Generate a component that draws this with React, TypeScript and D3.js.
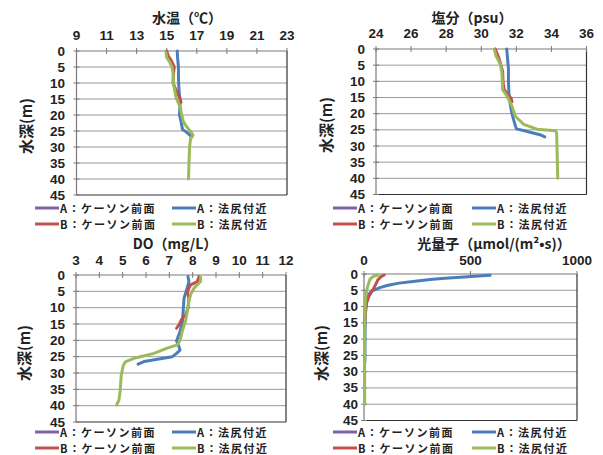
import React from "react";
import * as d3 from "d3";

// ---------- data (depth m, value) ----------
const depthTicks = [0, 5, 10, 15, 20, 25, 30, 35, 40, 45];
const tempTicks = [9, 11, 13, 15, 17, 19, 21, 23];
const salTicks = [24, 26, 28, 30, 32, 34, 36];
const doTicks = [3, 4, 5, 6, 7, 8, 9, 10, 11, 12];
const lightTicks = [0, 500, 1000];

const seriesNames = ["A：ケーソン前面", "A：法尻付近", "B：ケーソン前面", "B：法尻付近"];
const seriesColors = ["#7E62A8", "#4A7EBB", "#C0504D", "#9BBB59"];

const tempPurple: [number, number][] = [];
const tempBlue: [number, number][] = [
  [0, 15.7], [2, 15.72], [5, 15.78], [8, 15.78], [11, 15.8], [14, 15.85], [15.5, 15.92],
  [17, 15.88], [20, 15.85], [22, 15.95], [24.5, 16.05], [25.5, 16.35], [26.3, 16.55], [27, 16.65],
];
const tempRed: [number, number][] = [
  [0, 15.0], [1.5, 15.1], [3, 15.3], [5, 15.5], [7, 15.45], [10, 15.42], [12, 15.6], [14.5, 15.85], [16, 15.95],
];
const tempGreen: [number, number][] = [
  [0.5, 14.95], [2, 15.0], [3.5, 15.2], [5, 15.35], [7, 15.42], [10, 15.45], [12, 15.52], [14.5, 15.62],
  [16, 15.75], [17.5, 15.9], [20, 16.0], [22, 16.1], [23.5, 16.3], [25, 16.55], [26.3, 16.75],
  [27.5, 16.58], [30, 16.52], [35, 16.48], [40, 16.45],
];

const salPurple: [number, number][] = [];
const salBlue: [number, number][] = [
  [0, 31.45], [3, 31.5], [6, 31.55], [10, 31.55], [14, 31.58], [17.5, 31.66], [20, 31.75],
  [22, 31.85], [24.7, 32.0], [25.2, 32.4], [26.5, 33.35], [27.2, 33.62],
];
const salRed: [number, number][] = [
  [0, 30.8], [2, 30.95], [4.5, 31.1], [7, 31.22], [10, 31.24], [12.5, 31.3], [13.8, 31.47], [15.2, 31.7], [16.3, 31.75],
];
const salGreen: [number, number][] = [
  [0.2, 30.74], [2.3, 30.86], [4.8, 31.09], [7.5, 31.18], [10, 31.2], [12.6, 31.22], [14.6, 31.47],
  [17.7, 31.75], [20.8, 31.94], [23.3, 32.42], [24.8, 33.18], [25.3, 34.23], [26, 34.3], [31, 34.32], [40, 34.36],
];

const doPurple: [number, number][] = [];
const doBlue: [number, number][] = [
  [0.5, 7.8], [2, 7.84], [4.6, 7.74], [7.1, 7.63], [10.2, 7.6], [14.3, 7.56], [17.3, 7.46], [20.2, 7.31],
  [21.9, 7.41], [23, 7.46], [24, 7.31], [25, 7.13], [25.8, 6.49], [26.5, 5.91], [27.3, 5.66],
];
const doRed: [number, number][] = [
  [0.5, 8.27], [2, 8.2], [3, 7.91], [5.1, 7.77], [7.1, 7.84], [10.2, 7.8], [12.2, 7.7], [13.8, 7.51], [15.3, 7.41], [16.3, 7.31],
];
const doGreen: [number, number][] = [
  [0.5, 8.34], [2, 8.34], [3, 8.2], [4, 8.06], [6, 7.91], [8, 7.84], [11, 7.77], [14, 7.7], [17, 7.56],
  [20, 7.46], [21.4, 7.34], [22.4, 6.91], [24, 6.34], [25.5, 5.49], [26.5, 5.13], [27.6, 5.03],
  [30.6, 4.94], [35.7, 4.89], [38.3, 4.84], [39.8, 4.74],
];

const lightPurple: [number, number][] = [];
const lightBlue: [number, number][] = [
  [0.4, 592], [0.9, 470], [1.3, 380], [1.7, 310], [2.3, 230], [2.8, 165], [3.3, 125], [3.7, 100],
  [4.2, 75], [4.7, 55], [5.3, 35], [6.3, 22], [8.4, 12], [12, 7], [18, 5], [27, 4],
];
const lightRed: [number, number][] = [
  [0.3, 95], [0.8, 80], [1.8, 65], [3.2, 55], [4.5, 45], [5.5, 35], [7, 22], [9, 12], [11, 7], [13, 5], [16, 3],
];
const lightGreen: [number, number][] = [
  [0.3, 67], [0.7, 44], [1.6, 28], [3.2, 20], [5.3, 12], [7.3, 8], [10.4, 5], [15, 4], [20, 3], [30, 3], [40, 3],
];

// ---------- layout ----------
type PanelCfg = {
  title: string;
  ticks: number[];
  series: [number, number][][];
  x0: number; x1: number; y0: number; y1: number;
  titleX: number; titleY: number; tickY: number;
  yLabRight: number; yTitleX: number; yTitleY: number;
  legX: number; legX2: number; legY: number;
};

const FONT = "'Noto Sans CJK JP', 'Noto Sans', sans-serif";
const NUMFONT = "'Liberation Sans', Arial, sans-serif";

const panels: PanelCfg[] = [
  {
    title: "水温（℃）", ticks: tempTicks, series: [tempPurple, tempBlue, tempRed, tempGreen],
    x0: 76.5, x1: 287, y0: 51, y1: 195, titleX: 187, titleY: 17, tickY: 35,
    yLabRight: 65, yTitleX: 25, yTitleY: 126, legX: 35, legX2: 172, legY: 208,
  },
  {
    title: "塩分（psu）", ticks: salTicks, series: [salPurple, salBlue, salRed, salGreen],
    x0: 376, x1: 586.5, y0: 49, y1: 194.5, titleX: 472, titleY: 16.5, tickY: 33.5,
    yLabRight: 365, yTitleX: 325, yTitleY: 125, legX: 333, legX2: 472, legY: 208,
  },
  {
    title: "DO（mg/L）", ticks: doTicks, series: [doPurple, doBlue, doRed, doGreen],
    x0: 76, x1: 286, y0: 275, y1: 422, titleX: 175, titleY: 243, tickY: 260,
    yLabRight: 65, yTitleX: 23, yTitleY: 353, legX: 35, legX2: 172, legY: 432,
  },
  {
    title: "光量子（μmol/(m²•s)）", ticks: lightTicks, series: [lightPurple, lightBlue, lightRed, lightGreen],
    x0: 364, x1: 577, y0: 274, y1: 420.5, titleX: 494, titleY: 243, tickY: 260,
    yLabRight: 358, yTitleX: 320, yTitleY: 353, legX: 333, legX2: 472, legY: 432,
  },
];

function Panel({ cfg }: { cfg: PanelCfg }) {
  const xs = d3.scaleLinear().domain([cfg.ticks[0], cfg.ticks[cfg.ticks.length - 1]]).range([cfg.x0, cfg.x1]);
  const ys = d3.scaleLinear().domain([0, 45]).range([cfg.y0, cfg.y1]);
  const line = d3.line<[number, number]>().x((d) => xs(d[1])).y((d) => ys(d[0]));
  const rowGap = 16;
  return (
    <g>
      {depthTicks.slice(1, -1).map((t) => (
        <line key={"g" + t} x1={cfg.x0} x2={cfg.x1} y1={ys(t)} y2={ys(t)} stroke="#9a9a9a" strokeWidth={1} />
      ))}
      <line x1={cfg.x0} x2={cfg.x1} y1={cfg.y0} y2={cfg.y0} stroke="#7a7a7a" strokeWidth={1.2} />
      <line x1={cfg.x0} x2={cfg.x0} y1={cfg.y0} y2={cfg.y1} stroke="#7a7a7a" strokeWidth={1.2} />
      <line x1={cfg.x1} x2={cfg.x1} y1={cfg.y0} y2={cfg.y1} stroke="#333" strokeWidth={1.2} />
      <line x1={cfg.x0} x2={cfg.x1} y1={cfg.y1} y2={cfg.y1} stroke="#333" strokeWidth={1.2} />
      {cfg.ticks.map((t) => (
        <g key={"xt" + t}>
          <line x1={xs(t)} x2={xs(t)} y1={cfg.y0 - 3} y2={cfg.y0 + 3} stroke="#7a7a7a" />
          <text x={xs(t)} y={cfg.tickY} textAnchor="middle" dominantBaseline="central" fontFamily={NUMFONT}
            fontSize={13.5} fontWeight="bold" fill="#222">{t}</text>
        </g>
      ))}
      {depthTicks.map((t) => (
        <g key={"yt" + t}>
          <line x1={cfg.x0 - 3} x2={cfg.x0 + 3} y1={ys(t)} y2={ys(t)} stroke="#7a7a7a" />
          <text x={cfg.yLabRight} y={ys(t)} textAnchor="end" dominantBaseline="central" fontFamily={NUMFONT}
            fontSize={13.5} fontWeight="bold" fill="#222">{t}</text>
        </g>
      ))}
      <text x={cfg.titleX} y={cfg.titleY} textAnchor="middle" dominantBaseline="central"
        fontSize={14} fontWeight="bold" fill="#222">{cfg.title}</text>
      <text transform={`translate(${cfg.yTitleX},${cfg.yTitleY}) rotate(-90)`} textAnchor="middle"
        dominantBaseline="central" fontSize={15} fontWeight="bold" fill="#222">水深(m)</text>
      {cfg.series.map((s, i) =>
        s.length ? (
          <path key={"s" + i} d={line(s) || ""} fill="none" stroke={seriesColors[i]} strokeWidth={3}
            strokeLinejoin="round" strokeLinecap="round" />
        ) : null
      )}
      {seriesNames.map((n, i) => {
        const col = i % 2;
        const row = Math.floor(i / 2);
        const lx = col === 0 ? cfg.legX : cfg.legX2;
        const ly = cfg.legY + row * rowGap;
        return (
          <g key={"l" + i}>
            <line x1={lx} x2={lx + 24} y1={ly} y2={ly} stroke={seriesColors[i]} strokeWidth={3} />
            <text x={lx + 25} y={ly} dominantBaseline="central" fontSize={11} letterSpacing={1.5}
              fontWeight="bold" fill="#222">{n}</text>
          </g>
        );
      })}
    </g>
  );
}

export default function App() {
  return (
    <svg width={603} height={455} style={{ position: "absolute", left: 0, top: 0, background: "#fff" }}
      fontFamily={FONT}>
      <rect x={0} y={0} width={603} height={455} fill="#fff" />
      {panels.map((p, i) => (
        <Panel key={i} cfg={p} />
      ))}
    </svg>
  );
}
